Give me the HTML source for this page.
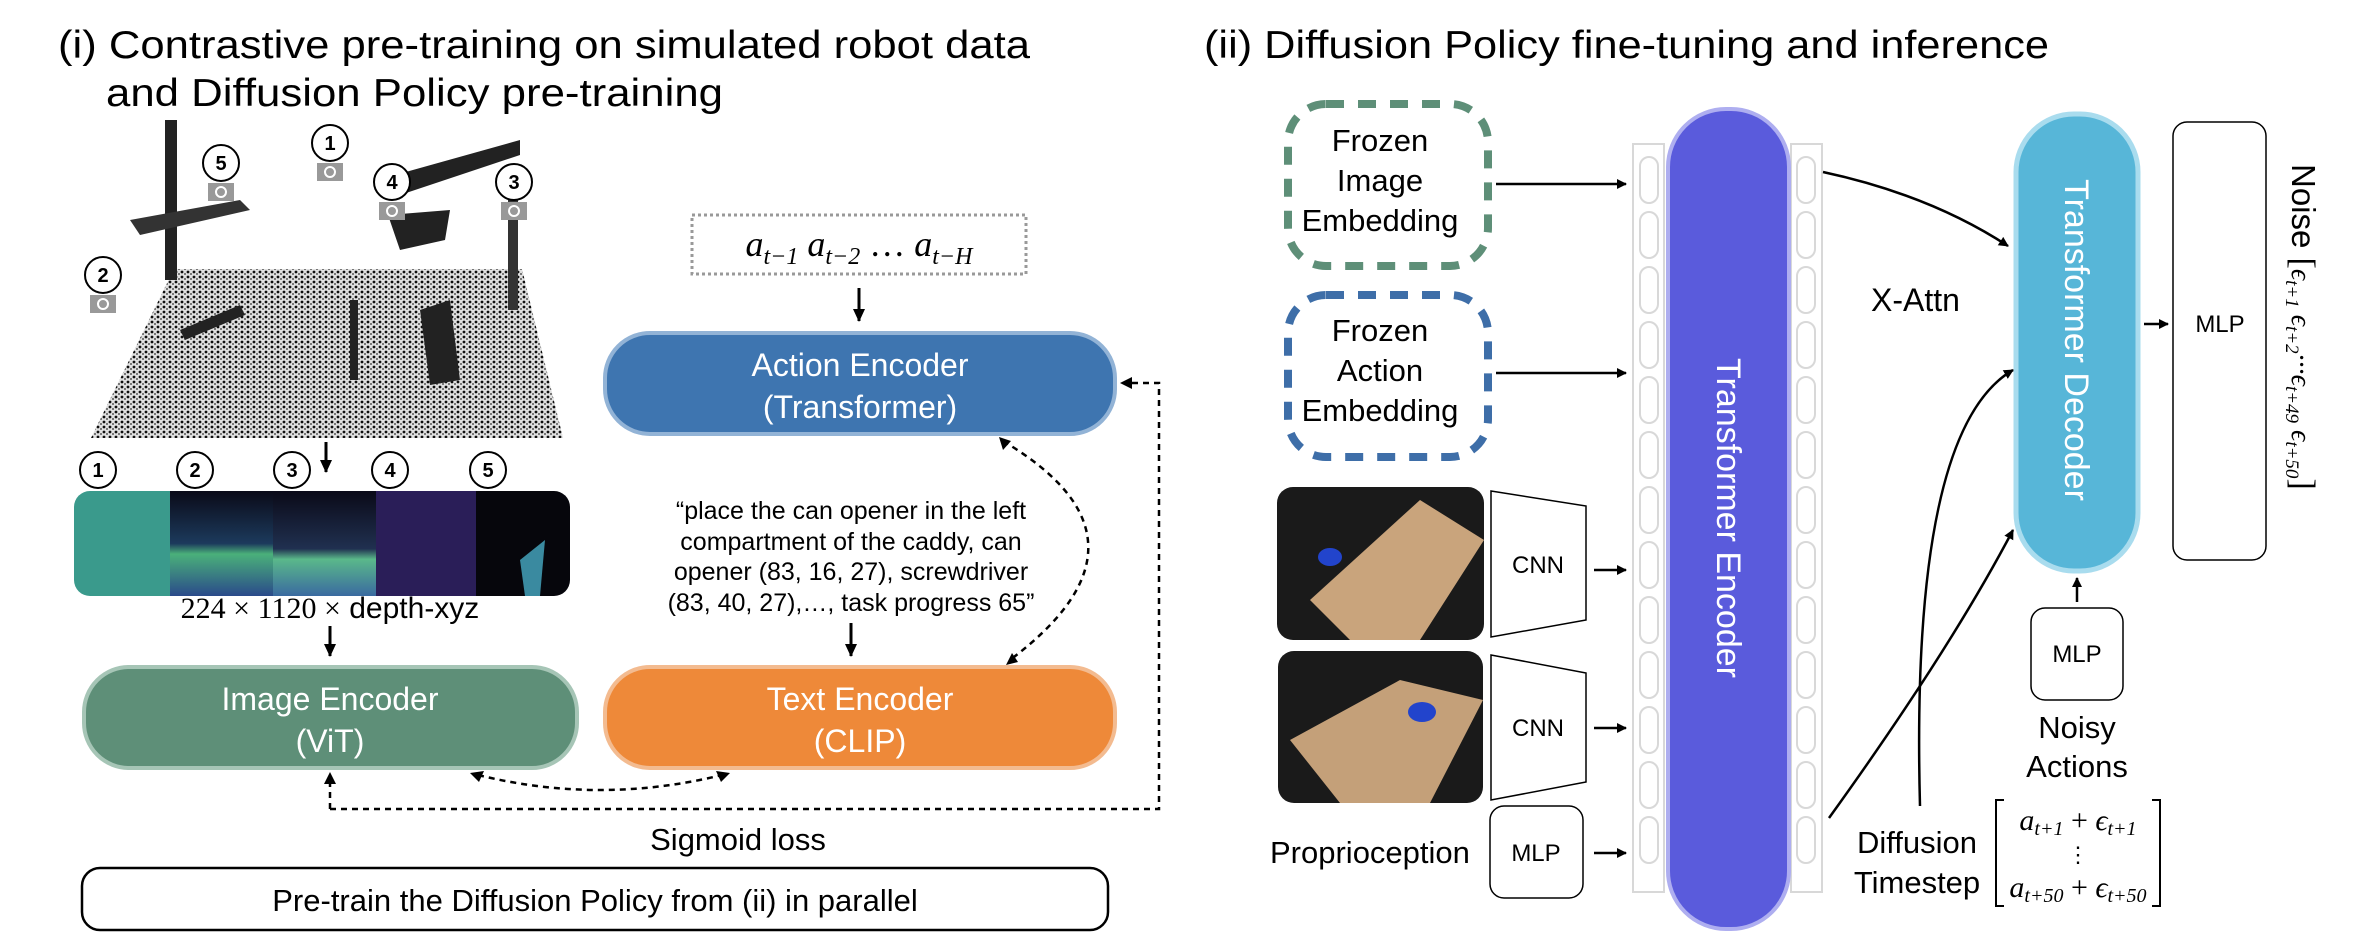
<!DOCTYPE html>
<html><head><meta charset="utf-8"><style>
html,body{margin:0;padding:0;background:#fff;}
svg{display:block;}
text{font-family:"Liberation Sans",sans-serif;}
.serif{font-family:"Liberation Serif",serif;font-style:italic;}
</style></head><body>
<svg width="2366" height="943" viewBox="0 0 2366 943" xmlns="http://www.w3.org/2000/svg">
<defs>
<marker id="ah" markerWidth="10" markerHeight="10" refX="9" refY="5" orient="auto" markerUnits="userSpaceOnUse"><path d="M0,0 L10,5 L0,10 Z" fill="#000"/></marker>
<marker id="ahs" markerWidth="14" markerHeight="14" refX="12" refY="7" orient="auto" markerUnits="userSpaceOnUse"><path d="M0,1 L13,7 L0,13 Z" fill="#000"/></marker>
<pattern id="dots" width="6" height="5" patternUnits="userSpaceOnUse"><rect width="6" height="5" fill="#fff"/><circle cx="2" cy="2" r="1.4" fill="#111"/><circle cx="5" cy="4" r="0.9" fill="#333"/></pattern>
<linearGradient id="g2" x1="0" y1="0" x2="0" y2="1"><stop offset="0" stop-color="#0a0a18"/><stop offset="0.5" stop-color="#1c3a5c"/><stop offset="0.6" stop-color="#4ab07a"/><stop offset="1" stop-color="#2a4a8a"/></linearGradient>
<linearGradient id="g3" x1="0" y1="0" x2="0" y2="1"><stop offset="0" stop-color="#0a0a18"/><stop offset="0.55" stop-color="#203050"/><stop offset="0.65" stop-color="#5ab88a"/><stop offset="1" stop-color="#3a6aa0"/></linearGradient>
</defs>

<!-- Titles -->
<text x="58" y="58" font-size="39" textLength="972" lengthAdjust="spacingAndGlyphs">(i) Contrastive pre-training on simulated robot data</text>
<text x="106" y="106" font-size="39" textLength="617" lengthAdjust="spacingAndGlyphs">and Diffusion Policy pre-training</text>
<text x="1204" y="58" font-size="39" textLength="845" lengthAdjust="spacingAndGlyphs">(ii) Diffusion Policy fine-tuning and inference</text>

<!-- point cloud -->
<polygon points="174,269 522,269 563,438 91,438" fill="url(#dots)"/>
<polygon points="174,269 522,269 563,438 91,438" fill="#000" opacity="0.12"/>
<rect x="165" y="120" width="12" height="160" fill="#222"/>
<polygon points="130,220 240,200 250,210 140,235" fill="#333"/>
<polygon points="395,175 520,140 520,155 400,195" fill="#222"/>
<polygon points="388,215 450,210 445,240 400,250" fill="#222"/>
<rect x="508" y="200" width="10" height="110" fill="#333"/>
<polygon points="180,330 240,305 245,315 185,340" fill="#222"/>
<rect x="350" y="300" width="8" height="80" fill="#222"/>
<polygon points="420,310 450,300 460,380 430,385" fill="#222"/>

<!-- cameras -->
<g font-size="20" text-anchor="middle" font-weight="bold">
<g transform="translate(330,143)"><circle r="18" fill="#fff" stroke="#000" stroke-width="2"/><text y="7">1</text><rect x="-13" y="20" width="26" height="18" fill="#999"/><circle cy="29" r="5" fill="none" stroke="#fff" stroke-width="2"/></g>
<g transform="translate(221,163)"><circle r="18" fill="#fff" stroke="#000" stroke-width="2"/><text y="7">5</text><rect x="-13" y="20" width="26" height="18" fill="#999"/><circle cy="29" r="5" fill="none" stroke="#fff" stroke-width="2"/></g>
<g transform="translate(392,182)"><circle r="18" fill="#fff" stroke="#000" stroke-width="2"/><text y="7">4</text><rect x="-13" y="20" width="26" height="18" fill="#999"/><circle cy="29" r="5" fill="none" stroke="#fff" stroke-width="2"/></g>
<g transform="translate(514,182)"><circle r="18" fill="#fff" stroke="#000" stroke-width="2"/><text y="7">3</text><rect x="-13" y="20" width="26" height="18" fill="#999"/><circle cy="29" r="5" fill="none" stroke="#fff" stroke-width="2"/></g>
<g transform="translate(103,275)"><circle r="18" fill="#fff" stroke="#000" stroke-width="2"/><text y="7">2</text><rect x="-13" y="20" width="26" height="18" fill="#999"/><circle cy="29" r="5" fill="none" stroke="#fff" stroke-width="2"/></g>
<g transform="translate(98,470)"><circle r="18" fill="#fff" stroke="#000" stroke-width="2"/><text y="7">1</text></g>
<g transform="translate(195,470)"><circle r="18" fill="#fff" stroke="#000" stroke-width="2"/><text y="7">2</text></g>
<g transform="translate(292,470)"><circle r="18" fill="#fff" stroke="#000" stroke-width="2"/><text y="7">3</text></g>
<g transform="translate(390,470)"><circle r="18" fill="#fff" stroke="#000" stroke-width="2"/><text y="7">4</text></g>
<g transform="translate(488,470)"><circle r="18" fill="#fff" stroke="#000" stroke-width="2"/><text y="7">5</text></g>
</g>
<line x1="326" y1="442" x2="326" y2="472" stroke="#000" stroke-width="3" marker-end="url(#ahs)"/>

<!-- depth strip -->
<clipPath id="strip"><rect x="74" y="491" width="496" height="105" rx="16"/></clipPath>
<g clip-path="url(#strip)">
<rect x="74" y="491" width="96" height="105" fill="#3a9a8c"/>
<rect x="170" y="491" width="103" height="105" fill="url(#g2)"/>
<rect x="273" y="491" width="103" height="105" fill="url(#g3)"/>
<rect x="376" y="491" width="100" height="105" fill="#2a1e58"/>
<rect x="476" y="491" width="94" height="105" fill="#06060c"/>
<polygon points="520,560 545,540 540,596 525,596" fill="#3a8aa0"/>
</g>
<text x="330" y="618" font-size="30" text-anchor="middle"><tspan font-family="Liberation Serif">224 × 1120 ×</tspan> depth-xyz</text>
<line x1="330" y1="626" x2="330" y2="656" stroke="#000" stroke-width="3" marker-end="url(#ahs)"/>

<!-- encoders -->
<rect x="84" y="667" width="493" height="101" rx="45" fill="#5e8f78" stroke="#a6c5b6" stroke-width="4"/>
<text x="330" y="710" font-size="32" fill="#fff" text-anchor="middle">Image Encoder</text>
<text x="330" y="752" font-size="32" fill="#fff" text-anchor="middle">(ViT)</text>
<rect x="605" y="667" width="510" height="101" rx="45" fill="#ee8939" stroke="#f3bb90" stroke-width="4"/>
<text x="860" y="710" font-size="32" fill="#fff" text-anchor="middle">Text Encoder</text>
<text x="860" y="752" font-size="32" fill="#fff" text-anchor="middle">(CLIP)</text>
<rect x="605" y="333" width="510" height="101" rx="45" fill="#3e75b0" stroke="#92b3d6" stroke-width="4"/>
<text x="860" y="376" font-size="32" fill="#fff" text-anchor="middle">Action Encoder</text>
<text x="860" y="418" font-size="32" fill="#fff" text-anchor="middle">(Transformer)</text>

<!-- action seq -->
<rect x="692" y="215" width="334" height="59" fill="none" stroke="#999" stroke-width="3" stroke-dasharray="3,3"/>
<text x="859" y="256" font-size="36" text-anchor="middle" class="serif">a<tspan font-size="24" dy="8">t−1</tspan><tspan dy="-8"> a</tspan><tspan font-size="24" dy="8">t−2</tspan><tspan dy="-8" font-style="normal"> … </tspan><tspan>a</tspan><tspan font-size="24" dy="8">t−H</tspan></text>
<line x1="859" y1="288" x2="859" y2="321" stroke="#000" stroke-width="3" marker-end="url(#ahs)"/>

<!-- quote -->
<g font-size="25" text-anchor="middle">
<text x="851" y="519">“place the can opener in the left</text>
<text x="851" y="550">compartment of the caddy, can</text>
<text x="851" y="580">opener (83, 16, 27), screwdriver</text>
<text x="851" y="611">(83, 40, 27),…, task progress 65”</text>
</g>
<line x1="851" y1="623" x2="851" y2="656" stroke="#000" stroke-width="3" marker-end="url(#ahs)"/>

<!-- dashed loss lines -->
<g fill="none" stroke="#000" stroke-width="2.5" stroke-dasharray="6,5">
<path d="M330,809 L1159,809 L1159,383 L1124,383"/>
<line x1="330" y1="809" x2="330" y2="780"/>
<path d="M478,775 Q600,805 722,775"/>
<path d="M1003,441 Q1170,540 1010,660"/>
</g>
<path d="M324,784 L330,772 L336,784Z" fill="#000"/>
<path d="M1120,383 L1132,377 L1132,389Z" fill="#000"/>
<path d="M470,773 L484,771 L479,782Z" fill="#000"/>
<path d="M730,773 L716,771 L721,782Z" fill="#000"/>
<path d="M999,437 L1011,441 L1003,450Z" fill="#000"/>
<path d="M1006,665 L1012,653 L1018,662Z" fill="#000"/>
<text x="738" y="850" font-size="31" text-anchor="middle">Sigmoid loss</text>
<rect x="82" y="868" width="1026" height="62" rx="18" fill="#fff" stroke="#000" stroke-width="2.5"/>
<text x="595" y="911" font-size="31" text-anchor="middle">Pre-train the Diffusion Policy from (ii) in parallel</text>

<!-- Right panel -->
<rect x="1288" y="104" width="200" height="162" rx="38" fill="none" stroke="#5e8f78" stroke-width="8" stroke-dasharray="18,14"/>
<g font-size="31" text-anchor="middle">
<text x="1380" y="151">Frozen</text><text x="1380" y="191">Image</text><text x="1380" y="231">Embedding</text>
</g>
<rect x="1288" y="295" width="200" height="162" rx="38" fill="none" stroke="#3e6ea8" stroke-width="8" stroke-dasharray="18,14"/>
<g font-size="31" text-anchor="middle">
<text x="1380" y="341">Frozen</text><text x="1380" y="381">Action</text><text x="1380" y="421">Embedding</text>
</g>
<line x1="1496" y1="184" x2="1626" y2="184" stroke="#000" stroke-width="2.5" marker-end="url(#ah)"/>
<line x1="1496" y1="373" x2="1626" y2="373" stroke="#000" stroke-width="2.5" marker-end="url(#ah)"/>

<!-- photos -->
<rect x="1277" y="487" width="207" height="153" rx="16" fill="#1a1a1a"/>
<polygon points="1310,600 1420,500 1484,540 1420,640 1350,640" fill="#c9a47c"/>
<rect x="1278" y="651" width="205" height="152" rx="16" fill="#1a1a1a"/>
<polygon points="1290,740 1400,680 1483,700 1430,803 1340,803" fill="#c4a079"/>
<ellipse cx="1422" cy="712" rx="14" ry="10" fill="#2244cc"/>
<ellipse cx="1330" cy="557" rx="12" ry="9" fill="#2244cc"/>

<!-- CNNs -->
<polygon points="1491,491 1586,506 1586,620 1491,637" fill="#fff" stroke="#000" stroke-width="1.5"/>
<text x="1538" y="573" font-size="24" text-anchor="middle">CNN</text>
<polygon points="1491,655 1586,673 1586,782 1491,800" fill="#fff" stroke="#000" stroke-width="1.5"/>
<text x="1538" y="736" font-size="24" text-anchor="middle">CNN</text>
<line x1="1594" y1="570" x2="1626" y2="570" stroke="#000" stroke-width="2.5" marker-end="url(#ah)"/>
<line x1="1594" y1="728" x2="1626" y2="728" stroke="#000" stroke-width="2.5" marker-end="url(#ah)"/>
<text x="1270" y="863" font-size="31">Proprioception</text>
<rect x="1490" y="806" width="93" height="92" rx="14" fill="#fff" stroke="#000" stroke-width="1.5"/>
<text x="1536" y="861" font-size="24" text-anchor="middle">MLP</text>
<line x1="1594" y1="853" x2="1626" y2="853" stroke="#000" stroke-width="2.5" marker-end="url(#ah)"/>

<!-- token columns -->
<rect x="1633" y="144" width="31" height="748" fill="#fff" stroke="#d8d8d8" stroke-width="2"/>
<rect x="1791" y="144" width="31" height="748" fill="#fff" stroke="#d8d8d8" stroke-width="2"/>
<g fill="none" stroke="#d8d8d8" stroke-width="2">
<rect x="1640" y="157" width="18" height="46" rx="9"/><rect x="1640" y="212" width="18" height="46" rx="9"/><rect x="1640" y="267" width="18" height="46" rx="9"/><rect x="1640" y="322" width="18" height="46" rx="9"/><rect x="1640" y="377" width="18" height="46" rx="9"/><rect x="1640" y="432" width="18" height="46" rx="9"/><rect x="1640" y="487" width="18" height="46" rx="9"/><rect x="1640" y="542" width="18" height="46" rx="9"/><rect x="1640" y="597" width="18" height="46" rx="9"/><rect x="1640" y="652" width="18" height="46" rx="9"/><rect x="1640" y="707" width="18" height="46" rx="9"/><rect x="1640" y="762" width="18" height="46" rx="9"/><rect x="1640" y="817" width="18" height="46" rx="9"/>
<rect x="1797" y="157" width="18" height="46" rx="9"/><rect x="1797" y="212" width="18" height="46" rx="9"/><rect x="1797" y="267" width="18" height="46" rx="9"/><rect x="1797" y="322" width="18" height="46" rx="9"/><rect x="1797" y="377" width="18" height="46" rx="9"/><rect x="1797" y="432" width="18" height="46" rx="9"/><rect x="1797" y="487" width="18" height="46" rx="9"/><rect x="1797" y="542" width="18" height="46" rx="9"/><rect x="1797" y="597" width="18" height="46" rx="9"/><rect x="1797" y="652" width="18" height="46" rx="9"/><rect x="1797" y="707" width="18" height="46" rx="9"/><rect x="1797" y="762" width="18" height="46" rx="9"/><rect x="1797" y="817" width="18" height="46" rx="9"/>
</g>
<rect x="1668" y="109" width="121" height="820" rx="58" fill="#5a5bdc" stroke="#aeaef0" stroke-width="4"/>
<text transform="translate(1717,518) rotate(90)" font-size="34" fill="#fff" text-anchor="middle">Transformer Encoder</text>

<!-- decoder -->
<rect x="2016" y="114" width="122" height="457" rx="58" fill="#57b6d8" stroke="#a9dcee" stroke-width="5"/>
<text transform="translate(2065,340) rotate(90)" font-size="34" fill="#fff" text-anchor="middle">Transformer Decoder</text>
<rect x="2173" y="122" width="93" height="438" rx="14" fill="#fff" stroke="#000" stroke-width="1.5"/>
<text x="2220" y="332" font-size="24" text-anchor="middle">MLP</text>
<line x1="2144" y1="324" x2="2168" y2="324" stroke="#000" stroke-width="2.5" marker-end="url(#ah)"/>
<text transform="translate(2292,164) rotate(90)" font-size="33">Noise <tspan font-size="34" font-family="Liberation Serif">[</tspan><tspan class="serif" font-size="28">ϵ<tspan font-size="19" dy="6">t+1</tspan><tspan dy="-6"> ϵ</tspan><tspan font-size="19" dy="6">t+2</tspan><tspan dy="-6">···ϵ</tspan><tspan font-size="19" dy="6">t+49</tspan><tspan dy="-6"> ϵ</tspan><tspan font-size="19" dy="6">t+50</tspan></tspan><tspan dy="-6" font-size="34" font-family="Liberation Serif">]</tspan></text>

<!-- curves -->
<path d="M1823,172 Q1930,195 2008,246" fill="none" stroke="#000" stroke-width="2.5" marker-end="url(#ah)"/>
<text x="1871" y="311" font-size="32">X-Attn</text>
<path d="M1829,818 Q1950,650 2013,530" fill="none" stroke="#000" stroke-width="2.5" marker-end="url(#ah)"/>
<path d="M1920,806 Q1910,430 2013,370" fill="none" stroke="#000" stroke-width="2.5" marker-end="url(#ah)"/>

<rect x="2031" y="608" width="92" height="92" rx="14" fill="#fff" stroke="#000" stroke-width="1.5"/>
<text x="2077" y="662" font-size="24" text-anchor="middle">MLP</text>
<line x1="2077" y1="602" x2="2077" y2="578" stroke="#000" stroke-width="2.5" marker-end="url(#ah)"/>
<text x="2077" y="738" font-size="31" text-anchor="middle">Noisy</text>
<text x="2077" y="777" font-size="31" text-anchor="middle">Actions</text>
<text x="1917" y="853" font-size="31" text-anchor="middle">Diffusion</text>
<text x="1917" y="893" font-size="31" text-anchor="middle">Timestep</text>

<!-- matrix -->
<path d="M2004,800 L1996,800 L1996,906 L2004,906" fill="none" stroke="#000" stroke-width="2"/>
<path d="M2152,800 L2160,800 L2160,906 L2152,906" fill="none" stroke="#000" stroke-width="2"/>
<text x="2078" y="830" font-size="30" text-anchor="middle" class="serif">a<tspan font-size="20" dy="5">t+1</tspan><tspan dy="-5" font-style="normal"> + </tspan>ϵ<tspan font-size="20" dy="5">t+1</tspan></text>
<text x="2078" y="862" font-size="22" text-anchor="middle">⋮</text>
<text x="2078" y="897" font-size="30" text-anchor="middle" class="serif">a<tspan font-size="20" dy="5">t+50</tspan><tspan dy="-5" font-style="normal"> + </tspan>ϵ<tspan font-size="20" dy="5">t+50</tspan></text>
</svg>
</body></html>
